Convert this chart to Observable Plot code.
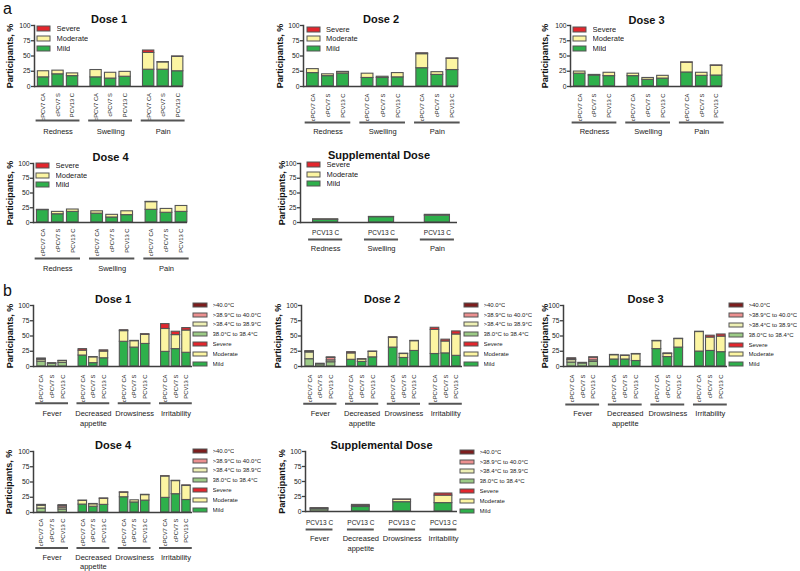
<!DOCTYPE html>
<html><head><meta charset="utf-8">
<script src="https://cdn.jsdelivr.net/npm/d3@7"></script>
<script src="https://cdn.jsdelivr.net/npm/@observablehq/plot@0.6"></script>
<style>
html,body{margin:0;padding:0;background:#fff;}
#root{position:relative;width:800px;height:571px;overflow:hidden;font-family:"Liberation Sans",Arial,sans-serif;}
.letter{position:absolute;font:16px "Liberation Sans",Arial,sans-serif;color:#111;line-height:16px;}
.lga-swatches{font:7.5px "Liberation Sans",Arial,sans-serif;margin:0;color:#222;}
.lga-swatch{height:9.6px;padding-bottom:0;display:flex;align-items:center;}
.lga-swatch > svg{margin-right:6.5px;}
.lga-swatch rect{stroke:#555;stroke-width:1;}
.lgb-swatches{font:6px "Liberation Sans",Arial,sans-serif;margin:0;color:#222;}
.lgb-swatch{height:9.8px;padding-bottom:0;display:flex;align-items:center;}
.lgb-swatch > svg{margin-right:5.5px;}
.lgb-swatch rect{stroke:#555;stroke-width:1;}
</style>
</head><body><div id="root"></div>
<script>
// ---------- data ----------
const vaccines = ["cPCV7 CA", "cPCV7 S", "PCV13 C"];
const suppVaccine = ["PCV13 C"];
const localGroups = ["Redness", "Swelling", "Pain"];
const systemicGroups = ["Fever", "Decreased\nappetite", "Drowsiness", "Irritability"];
const severityLevels = ["Mild", "Moderate", "Severe"];
const feverLevels = ["38.0°C to 38.4°C", ">38.4°C to 38.9°C", ">38.9°C to 40.0°C", ">40.0°C"];
const severityColors = ["#2eb04b", "#fcf5a2", "#e3262d"];
const feverColors = ["#9ccb86", "#eef0b4", "#ec9090", "#7d1d1d"];

// panel a: rows = Redness CA,S,C / Swelling CA,S,C / Pain CA,S,C ; [Mild, Moderate, Severe]
const aDose1 = [[15,10,0],[20,6,0],[17,4.5,0],[15,12,0],[13,9.5,0],[16,8,0],[27.5,27.5,4],[27.5,12,0.5],[25,23.5,0.8]];
const aDose2 = [[22,6.5,0],[17,3,0],[21,2.5,0.5],[14,7,0],[14,2,0],[15,7,0],[30,23,1.5],[19,4.5,0],[27,18.5,0.5]];
const aDose3 = [[21,3.5,0],[18,1,0],[17,5.5,0],[17,4,0],[11,3,0],[13,4.5,0],[23,16,0.5],[17.5,5,0],[18,16,0.5]];
const aDose4 = [[21,0.5,0],[14,4,0],[18,4,0],[15,4,0],[8.5,4.5,0],[12.5,6.5,0],[21.5,13,0.5],[16.5,6.5,0],[18,10,0]];
const aSupp  = [[4.5,1,0],[9,0.5,0],[11.5,1.5,0]];

// panel b fever: rows CA,S,C ; [38.0-38.4, >38.4-38.9, >38.9-40.0, >40.0]
const bDose1Fever = [[8,3,1.5,0.5],[4.5,1,0,0],[6,3,0.3,0]];
const bDose2Fever = [[12,11,1.5,0.5],[3.5,1,0,0],[7,3,4,1]];
const bDose3Fever = [[6.5,4,1,2],[5,1,0,0],[7.5,2.5,4.5,0.5]];
const bDose4Fever = [[6.5,4.5,1,0.5],[0,0,0,0],[5,3,2.5,1.5]];
const bSuppFever  = [[3.5,1.5,0,0.5]];
// panel b other: rows Decreased appetite CA,S,C / Drowsiness / Irritability ; [Mild, Moderate, Severe]
const bDose1Other = [[18,8,2.5],[5.5,9.5,0.5],[13.5,11,2],[40.5,17.5,1.5],[31,10.5,0.5],[37,15,1],[24,37.5,8],[28.5,23,5.5],[22.5,36.5,4]];
const bDose2Other = [[11,10.5,2],[7.5,4,0.5],[15,9,0.5],[31,16,1],[14,6.5,0.5],[25.5,16,0.5],[20.5,39.5,3.5],[21.5,19.5,3],[17.5,35,5]];
const bDose3Other = [[11.5,7,0.5],[11.5,6,0.5],[9,11,0.5],[28.5,13,0.5],[15.5,5,1],[31,14,0.5],[24.5,32,0.5],[25.5,22,3],[23.5,25.5,3.5]];
const bDose4Other = [[13,6,0.5],[9.5,4,0.5],[12.5,10,0.5],[25,7.5,0.5],[16.5,3.5,0],[19.5,9,0.5],[24,35,0.5],[30,21.5,0.5],[20.5,23,1]];
const bSuppOther  = [[7.5,1.5,2],[15.5,4,0.5],[14,12.5,3.5]];

const yTicks = [0, 25, 50, 75, 100];
const yLabel = "Participants, %";

// ---------- drawing ----------
const FONT = '"Liberation Sans", Arial, Helvetica, sans-serif';
const NARROW = '"Liberation Sans Narrow", "Arial Narrow", "Liberation Sans", Arial, sans-serif';
const AXIS = "#3f3f3f";
const BARSTROKE = "#555";
const allLevels = severityLevels.concat(feverLevels);
const allColors = severityColors.concat(feverColors);
const root = document.getElementById("root");

function drawPanel(p) {
  const nc = p.cats.length;
  const bars = [];
  p.groups.forEach((gname, g) => {
    const rows = p.rowsOf(g), levels = p.levelsOf(g);
    p.cats.forEach((cat, i) => bars.push({cat, pos: g * p.stride + i, levels, values: rows[i]}));
  });
  const segs = [];
  for (const b of bars) {
    let acc = 0;
    b.values.forEach((v, k) => {
      if (v > 0) segs.push({x1: b.pos - p.bw / 2, x2: b.pos + p.bw / 2, y1: acc, y2: acc + v, level: b.levels[k]});
      acc += v;
    });
  }
  const lastPos = (p.groups.length - 1) * p.stride + nc - 1;
  const spans = p.groups.map((name, g) => ({
    name,
    x1: g * p.stride - p.bw / 2 - p.ulExt,
    x2: g * p.stride + nc - 1 + p.bw / 2 + p.ulExt,
    mid: g * p.stride + (nc - 1) / 2
  }));
  const tickMark = p.rotate
    ? Plot.text(bars, {x: "pos", y: 0, text: "cat", rotate: -90, textAnchor: "end", dy: p.tickDy, fontSize: 5.8, fontFamily: NARROW, fill: "#222"})
    : Plot.text(bars, {x: "pos", y: 0, text: "cat", lineAnchor: "middle", dy: p.tickDy, fontSize: 6.5, fill: "#222"});
  const svg = Plot.plot({
    width: 800, height: 571,
    marginLeft: p.axisX, marginRight: 800 - p.axisEnd, marginTop: p.y100, marginBottom: 571 - p.y0,
    style: {background: "transparent", fontFamily: FONT, overflow: "visible", position: "absolute", left: "0px", top: "0px"},
    x: {type: "linear", domain: [-p.padL, lastPos + p.padR], axis: null},
    y: {domain: [0, 100], axis: null},
    color: {domain: allLevels, range: allColors},
    marks: [
      Plot.rectY(segs, {x1: "x1", x2: "x2", y1: "y1", y2: "y2", fill: "level", stroke: BARSTROKE, strokeWidth: 1.1}),
      Plot.ruleY([0], {stroke: AXIS, strokeWidth: 1.5}),
      Plot.frame({anchor: "left", stroke: AXIS, strokeWidth: 1.5}),
      Plot.axisY({ticks: yTicks, tickSize: 3, tickPadding: 1, fontSize: 6.8, stroke: AXIS, strokeWidth: 1.3, fill: "#222", label: null}),
      tickMark,
      Plot.ruleY(spans, {x1: "x1", x2: "x2", y: 0, dy: p.ulDy, stroke: "#555", strokeWidth: 2}),
      Plot.text(spans, {x: "mid", y: 0, text: "name", dy: p.grpDy - 2.7, lineAnchor: "top", fontSize: 7.5, lineHeight: p.lineH || 1.27, fill: "#222"}),
      Plot.text([p.title], {text: d => d, frameAnchor: "top", lineAnchor: "middle", textAnchor: "middle", dy: p.titleY - p.y100, fontWeight: "bold", fontSize: 11, fill: "#111"}),
      Plot.text([yLabel], {text: d => d, frameAnchor: "left", textAnchor: "middle", lineAnchor: "middle", rotate: -90, dx: p.ylabDx, fontWeight: "bold", fontSize: 9, fill: "#111"})
    ]
  });
  root.appendChild(svg);

  const lg = Plot.legend({
    color: {type: "ordinal", domain: p.legendLevels, range: p.legendLevels.map(l => allColors[allLevels.indexOf(l)])},
    legend: "swatches", columns: 1,
    swatchWidth: p.kind === "a" ? 13 : 14, swatchHeight: p.kind === "a" ? 5 : 4,
    className: p.kind === "a" ? "lga" : "lgb"
  });
  lg.style.position = "absolute";
  lg.style.left = p.legend[0] + "px";
  lg.style.top = p.legend[1] + "px";
  root.appendChild(lg);
}

const legendA = severityLevels.slice().reverse();
const legendB = feverLevels.slice().reverse().concat(severityLevels.slice().reverse());

function panelA(rows, geo) {
  return Object.assign({
    kind: "a", groups: localGroups, cats: vaccines, stride: 3.62, bw: 0.78, padL: 0.62, padR: 0.4, ulExt: 0.12, rotate: true,
    rowsOf: g => rows.slice(g * 3, g * 3 + 3), levelsOf: () => severityLevels, legendLevels: legendA
  }, geo);
}
function panelB(fever, other, geo) {
  return Object.assign({
    kind: "b", groups: systemicGroups, cats: vaccines, stride: 3.9, bw: 0.8, padL: 0.76, padR: 0.57, ulExt: 0.15, rotate: true,
    rowsOf: g => g === 0 ? fever : other.slice((g - 1) * 3, (g - 1) * 3 + 3),
    levelsOf: g => g === 0 ? feverLevels : severityLevels, legendLevels: legendB
  }, geo);
}

const panels = [
  panelA(aDose1, {title: "Dose 1", axisX: 34, axisEnd: 183, y100: 25, y0: 86, titleY: 19, ylabDx: -24.5, tickDy: 6.5, ulDy: 34, grpDy: 43, legend: [37, 24.2]}),
  panelA(aDose2, {title: "Dose 2", axisX: 303, axisEnd: 458, y100: 25, y0: 86, titleY: 19, ylabDx: -23, tickDy: 7, ulDy: 36, grpDy: 43, legend: [306.5, 24.5]}),
  panelA(aDose3, {title: "Dose 3", axisX: 570, axisEnd: 722, y100: 25, y0: 86, titleY: 20, ylabDx: -25, tickDy: 7, ulDy: 36, grpDy: 43, legend: [573, 24.5]}),
  panelA(aDose4, {title: "Dose 4", axisX: 33, axisEnd: 187, y100: 163, y0: 222, titleY: 156.5, ylabDx: -23, tickDy: 6, ulDy: 36, grpDy: 44.7, legend: [36, 161]}),
  Object.assign(panelA(aSupp, {title: "Supplemental Dose", axisX: 300, axisEnd: 457, y100: 163, y0: 222, titleY: 155, ylabDx: -18.3, tickDy: 10.7, ulDy: 17, grpDy: 24.7, legend: [307, 160]}),
    {cats: suppVaccine, stride: 1, bw: 0.45, padL: 0.45, padR: 0.36, ulExt: 0.08, rotate: false, rowsOf: g => [aSupp[g]]}),
  panelB(bDose1Fever, bDose1Other, {title: "Dose 1", axisX: 33, axisEnd: 192, y100: 305, y0: 366, titleY: 299, ylabDx: -23.5, tickDy: 8, ulDy: 36.7, grpDy: 45.7, legend: [193, 300]}),
  panelB(bDose2Fever, bDose2Other, {title: "Dose 2", axisX: 301, axisEnd: 462, y100: 305, y0: 366, titleY: 299, ylabDx: -23, tickDy: 8, ulDy: 37.3, grpDy: 45.7, legend: [464, 300]}),
  panelB(bDose3Fever, bDose3Other, {title: "Dose 3", axisX: 563, axisEnd: 727, y100: 305, y0: 366, titleY: 299, ylabDx: -18.3, tickDy: 8, ulDy: 38, grpDy: 45.7, legend: [729, 300.5]}),
  panelB(bDose4Fever, bDose4Other, {title: "Dose 4", axisX: 33, axisEnd: 192, y100: 451, y0: 512, titleY: 444.5, ylabDx: -24.7, tickDy: 6, ulDy: 35.5, grpDy: 44, lineH: 1.2, legend: [193, 446]}),
  Object.assign(panelB(bSuppFever, bSuppOther, {title: "Supplemental Dose", axisX: 305, axisEnd: 457, y100: 451, y0: 511, titleY: 444.5, ylabDx: -23.3, tickDy: 11.3, ulDy: 18, grpDy: 25.7, legend: [460, 447]}),
    {cats: suppVaccine, stride: 1, bw: 0.43, padL: 0.34, padR: 0.34, ulExt: 0.11, rotate: false,
     rowsOf: g => g === 0 ? bSuppFever : [bSuppOther[g - 1]]})
];
panels.forEach(drawPanel);

for (const [t, x, y] of [["a", 3, 1], ["b", 3, 283]]) {
  const d = document.createElement("div");
  d.className = "letter"; d.textContent = t;
  d.style.left = x + "px"; d.style.top = y + "px";
  root.appendChild(d);
}
</script></body></html>
